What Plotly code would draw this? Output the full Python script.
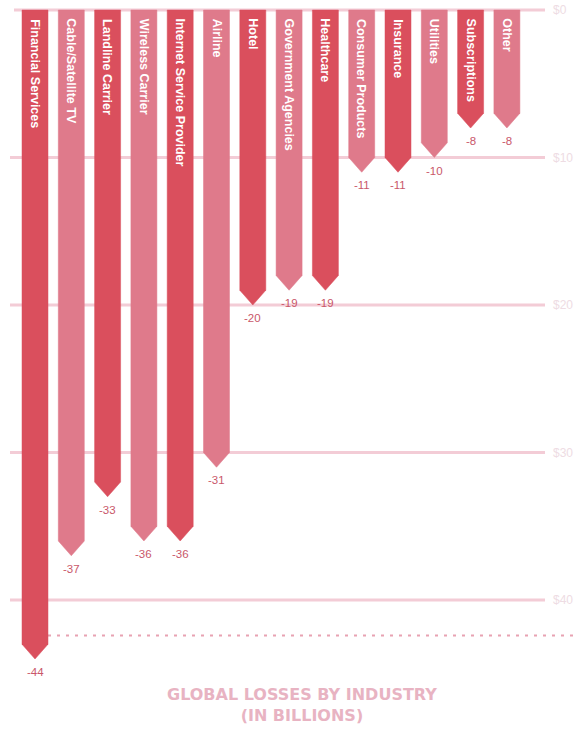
import plotly.graph_objects as go

# Global losses by industry, in billions of dollars
industries = [
    "Financial Services", "Cable/Satellite TV", "Landline Carrier", "Wireless Carrier",
    "Internet Service Provider", "Airline", "Hotel", "Government Agencies", "Healthcare",
    "Consumer Products", "Insurance", "Utilities", "Subscriptions", "Other",
]
losses = [-44, -37, -33, -36, -36, -31, -20, -19, -19, -11, -11, -10, -8, -8]
tick_values = [0, -10, -20, -30, -40]
tick_labels = ["$0", "$10", "$20", "$30", "$40"]
reference_level = -42.4

RED = "#DA4F5D"
PINK = "#DF7A8B"
GRID = "#F3CCD6"
LABEL = "#C9576A"

W, H = 576, 732
PX_PER_SLOT = 36.3
FIRST_CENTER_PX = 35
PX_PER_UNIT = 14.75
ZERO_PX = 10

x_lo = -FIRST_CENTER_PX / PX_PER_SLOT
x_hi = x_lo + W / PX_PER_SLOT
y_hi = ZERO_PX / PX_PER_UNIT
y_lo = y_hi - H / PX_PER_UNIT


def px_to_x(px):
    return x_lo + px / PX_PER_SLOT


half = 13 / PX_PER_SLOT
tip = 1.0

fig = go.Figure()

# gridlines behind the bars
shapes = []
for v in tick_values:
    shapes.append(dict(type="line", xref="x", yref="y", x0=px_to_x(10 if v else 14),
                       x1=px_to_x(545), y0=v, y1=v, layer="below",
                       line=dict(color=GRID, width=3)))
shapes.append(dict(type="line", xref="x", yref="y", x0=px_to_x(48), x1=px_to_x(576),
                   y0=reference_level, y1=reference_level, layer="below",
                   line=dict(color="#E8A2B2", width=2, dash="3px,6px")))

annotations = []
for i, (name, v) in enumerate(zip(industries, losses)):
    color = RED if i % 2 == 0 else PINK
    xs = [i - half, i + half, i + half, i, i - half, i - half]
    ys = [0, 0, v + tip, v, v + tip, 0]
    fig.add_trace(go.Scatter(x=xs, y=ys, mode="lines", fill="toself", fillcolor=color,
                             line=dict(color=color, width=0.5), hoverinfo="skip",
                             showlegend=False))
    annotations.append(dict(x=i, y=-0.45, xref="x", yref="y", text=f"<b>{name}</b>",
                            textangle=90, showarrow=False, xanchor="center", yanchor="top",
                            font=dict(family="Liberation Sans, Arial", size=12.5,
                                      color="white")))
    annotations.append(dict(x=i, y=v - 0.35, xref="x", yref="y", text=f"-{abs(v)}",
                            showarrow=False, xanchor="center", yanchor="top",
                            font=dict(family="Liberation Sans Narrow, Arial", size=11.5,
                                      color=LABEL)))

for v, lab in zip(tick_values, tick_labels):
    annotations.append(dict(x=px_to_x(551), y=v, xref="x", yref="y", text=lab,
                            showarrow=False, xanchor="left", yanchor="middle",
                            font=dict(family="Liberation Sans Narrow, Arial", size=12,
                                      color="#EEDCE3")))

annotations.append(dict(x=px_to_x(302), y=y_hi - 705 / PX_PER_UNIT, xref="x", yref="y",
                        text="<b>GLOBAL LOSSES BY INDUSTRY<br>(IN BILLIONS)</b>",
                        showarrow=False, xanchor="center", yanchor="middle",
                        font=dict(family="DejaVu Sans, Arial", size=16, color="#E8B3C2"),
                        align="center"))

fig.update_layout(
    width=W, height=H,
    margin=dict(l=0, r=0, t=0, b=0),
    paper_bgcolor="white", plot_bgcolor="white",
    xaxis=dict(range=[x_lo, x_hi], visible=False, fixedrange=True),
    yaxis=dict(range=[y_lo, y_hi], visible=False, fixedrange=True),
    shapes=shapes, annotations=annotations,
)

fig.write_html("out.html")
